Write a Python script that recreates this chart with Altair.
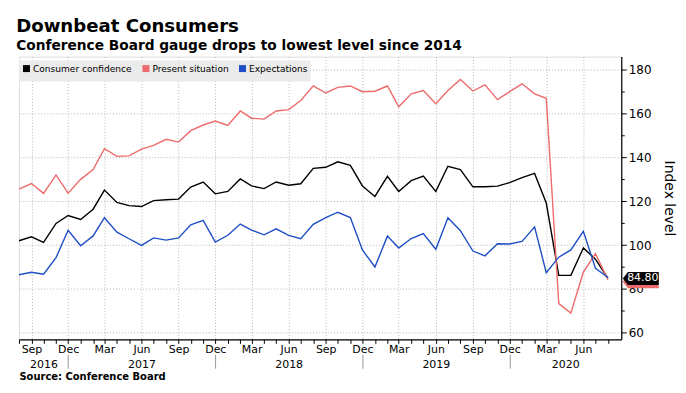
import altair as alt
import pandas as pd

# ---------------- data ----------------
MONTHS = pd.date_range("2016-08-01", "2020-08-01", freq="MS").strftime("%Y-%m-%dT00:00:00").tolist()

SERIES = ["Consumer confidence", "Present situation", "Expectations"]
COLORS = ["#000000", "#ee6b6b", "#1e4fc4"]

CONSUMER_CONFIDENCE = [
    102.0, 103.8, 101.2, 109.9, 113.5,
    111.7, 116.4, 125.1, 119.5, 118.0, 117.6, 120.3, 120.7, 121.0, 126.5, 128.8, 123.4,
    124.5, 130.2, 127.0, 125.8, 128.8, 127.3, 128.0, 135.0, 135.5, 138.0, 136.4, 127.0,
    122.2, 131.4, 124.5, 129.4, 131.5, 124.5, 136.0, 134.5, 126.6, 126.6, 126.9, 128.5,
    130.8, 132.7, 119.2, 86.2, 86.2, 98.7, 93.6, 84.8,
]
PRESENT_SITUATION = [
    125.5, 128.1, 123.6, 132.0, 123.7,
    130.0, 134.5, 144.0, 140.5, 140.7, 143.8, 145.5, 148.3, 147.0, 152.2, 154.8, 156.6,
    154.6, 161.2, 157.9, 157.5, 161.2, 161.8, 166.0, 172.7, 169.4, 172.0, 172.6, 170.0,
    170.2, 172.6, 163.1, 169.0, 170.5, 164.5, 170.5, 175.6, 170.3, 173.1, 166.4, 170.0,
    173.6, 169.0, 167.0, 73.3, 69.0, 87.7, 96.1, 84.2,
]
EXPECTATIONS = [
    86.5, 87.6, 86.7, 94.3, 106.8,
    99.7, 104.2, 112.5, 105.9, 102.9, 99.9, 103.3, 102.3, 103.3, 109.3, 111.3, 101.4,
    104.5, 109.6, 106.8, 104.7, 107.4, 104.4, 102.9, 109.5, 112.5, 115.0, 112.6, 97.8,
    90.0, 104.1, 98.7, 103.0, 105.3, 98.1, 112.5, 106.6, 97.3, 95.1, 100.6, 100.5,
    101.7, 108.3, 87.4, 94.5, 97.8, 106.3, 89.4, 85.2,
]

Y_TICKS = [60, 70, 80, 90, 100, 110, 120, 130, 140, 150, 160, 170, 180]
X_DOMAIN = ["2016-08-01T00:00:00", "2020-09-03T00:00:00"]
Y_DOMAIN = [57, 186]

YEAR_LABELS = ["2016", "2017", "2018", "2019", "2020"]
YEAR_CENTERS = ["2016-10-01T00:00:00", "2017-06-01T00:00:00", "2018-06-01T00:00:00",
                "2019-06-01T00:00:00", "2020-04-17T00:00:00"]
YEAR_SEPARATORS = ["2016-12-01T00:00:00", "2017-12-01T00:00:00",
                   "2018-12-01T00:00:00", "2019-12-01T00:00:00"]

FONT = "DejaVu Sans"

# ---------------- tables ----------------
rows = []
for name, vals in zip(SERIES, [CONSUMER_CONFIDENCE, PRESENT_SITUATION, EXPECTATIONS]):
    for m, v in zip(MONTHS, vals):
        rows.append({"date": m, "series": name, "value": v})
df = pd.DataFrame(rows)

tag_df = pd.DataFrame({
    "date": [MONTHS[-1], MONTHS[-1]],
    "series": [SERIES[1], SERIES[0]],
    "value": [PRESENT_SITUATION[-1], CONSUMER_CONFIDENCE[-1]],
})
year_df = pd.DataFrame({"date": YEAR_CENTERS, "label": YEAR_LABELS})
sep_df = pd.DataFrame({"date": YEAR_SEPARATORS})


def dt(s):
    y, m = int(s[:4]), int(s[5:7])
    d = int(s[8:10])
    return alt.DateTime(year=y, month=m, date=d)


xscale = alt.Scale(domain=[dt(X_DOMAIN[0]), dt(X_DOMAIN[1])])
yscale = alt.Scale(domain=Y_DOMAIN, nice=False, zero=False)

QTEST = "indexof([8,11,2,5], month(datum.value)) >= 0"

month_axis = alt.Axis(
    orient="bottom",
    values=[dt(m) for m in MONTHS],
    labelExpr=f"{QTEST} ? timeFormat(datum.value, '%b') : ''",
    labelOverlap=False,
    labelFlush=False,
    grid=True,
    gridOpacity={"condition": {"test": QTEST, "value": 1}, "value": 0},
    gridDash=[1, 2],
    gridColor="#b5b5b5",
    gridWidth=1,
    tickSize=4,
    tickColor="black",
    domainColor="black",
    domainWidth=1.2,
    labelFont=FONT,
    labelFontSize=11,
    labelColor="black",
    labelPadding=0,
    title=None,
)

y_axis = alt.Axis(
    orient="right",
    values=Y_TICKS,
    labelExpr="datum.value % 20 == 0 ? datum.label : ''",
    grid=True,
    gridOpacity={"condition": {"test": "datum.value % 20 == 0", "value": 1}, "value": 0},
    gridDash=[1, 2],
    gridColor="#b5b5b5",
    tickSize={"condition": {"test": "datum.value % 20 == 0", "value": 5}, "value": 3},
    tickColor="black",
    domainColor="black",
    domainWidth=1.2,
    labelFont=FONT,
    labelFontSize=12,
    labelColor="black",
    labelPadding=2,
    title="Index level",
    titleFont=FONT,
    titleFontSize=14,
    titleFontWeight="normal",
    titleColor="black",
    titleAngle=90,
    titlePadding=11,
)

legend = alt.Legend(
    orient="none",
    legendX=0,
    legendY=4,
    direction="horizontal",
    title=None,
    fillColor="#ebebeb",
    padding=3,
    symbolType="square",
    symbolSize=9,
    symbolStrokeWidth=4,
    labelFont=FONT,
    labelFontSize=9.1,
    labelColor="black",
    labelOffset=2,
    columnPadding=4,
)

Y_ENC = alt.Y("value:Q", scale=yscale, axis=y_axis)

lines = alt.Chart(df).mark_line(strokeWidth=1.4).encode(
    x=alt.X("date:T", scale=xscale, axis=month_axis),
    y=Y_ENC,
    color=alt.Color("series:N", scale=alt.Scale(domain=SERIES, range=COLORS), legend=legend, sort=SERIES),
    order=alt.Order("date:T"),
)

years = alt.Chart(year_df).mark_point(opacity=0).encode(
    x=alt.X("date:T", scale=xscale, axis=alt.Axis(
        orient="bottom", values=[dt(d) for d in YEAR_CENTERS],
        labelExpr="timeFormat(datum.value, '%Y')", ticks=False, domain=False, grid=False,
        labelFont=FONT, labelFontSize=11, labelColor="black", labelPadding=19,
        labelOverlap=False, labelFlush=False, title=None)),
)

seps = alt.Chart(sep_df).mark_point(opacity=0).encode(
    x=alt.X("date:T", scale=xscale, axis=alt.Axis(
        orient="bottom", values=[dt(d) for d in YEAR_SEPARATORS],
        labels=False, domain=False, grid=False, tickSize=14, tickColor="#999999",
        offset=15, title="Source: Conference Board", titleFont=FONT, titleFontSize=10,
        titleFontWeight="bold", titleColor="black", titleAnchor="start", titleAlign="left",
        titlePadding=3)),
)

tag_shape = "M -1 0 L -0.72 -0.36 L 1 -0.36 L 1 0.36 L -0.72 0.36 Z"
tag_red = alt.Chart(tag_df).transform_filter(alt.datum.series == SERIES[1]).mark_point(
    shape=tag_shape, filled=True, size=1296, opacity=1, xOffset=33, yOffset=2, color=COLORS[1]
).encode(x=alt.X("date:T", scale=xscale, axis=None), y=Y_ENC)

tag_black = alt.Chart(tag_df).transform_filter(alt.datum.series == SERIES[0]).mark_point(
    shape=tag_shape, filled=True, size=1296, opacity=1, xOffset=33, color="black"
).encode(x=alt.X("date:T", scale=xscale, axis=None), y=Y_ENC)

tag_text = alt.Chart(tag_df).transform_filter(alt.datum.series == SERIES[0]).mark_text(
    color="white", font=FONT, fontSize=11, xOffset=35, align="center", baseline="middle"
).encode(x=alt.X("date:T", scale=xscale, axis=None), y=Y_ENC,
         text=alt.Text("value:Q", format=".2f"))

chart = alt.layer(lines, years, seps, tag_red, tag_black, tag_text).resolve_axis(
    x="independent", y="shared"
).properties(
    width=605,
    height=284,
    padding={"left": 8, "top": 8, "right": 2, "bottom": 0},
    title=alt.TitleParams(
        text="Downbeat Consumers",
        subtitle="Conference Board gauge drops to lowest level since 2014",
        anchor="start",
        font=FONT,
        fontSize=18.2,
        fontWeight="bold",
        color="black",
        subtitleFont=FONT,
        subtitleFontSize=13.8,
        subtitleFontWeight="bold",
        subtitleColor="black",
        subtitlePadding=3,
        offset=3,
    ),
).configure_view(stroke=None).configure(background="white")

chart.save("out.html", embed_options={"renderer": "svg", "actions": False})
